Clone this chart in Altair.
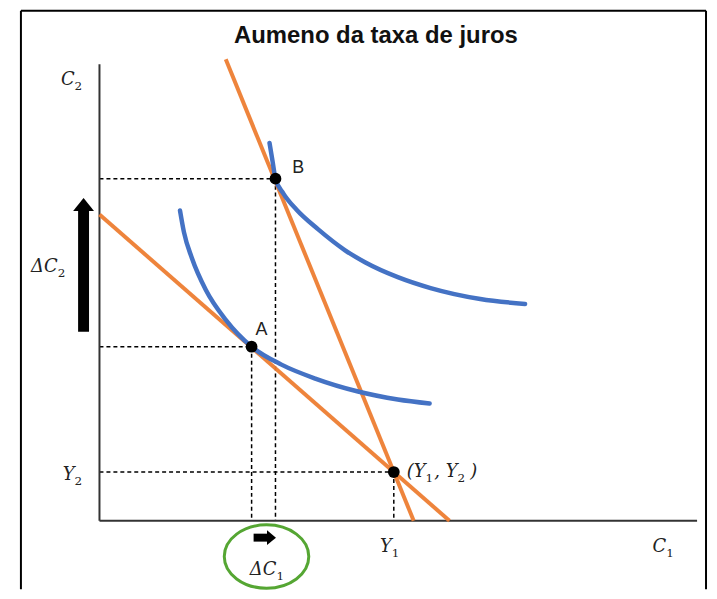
import altair as alt
import pandas as pd

# ---- data (units: economic diagram coordinates, origin at the axes corner) ----
Y1, Y2 = 296, 49
point_names = ["A", "B", "Y"]
point_x = [153, 177, Y1]
point_y = [175, 344, Y2]

# budget lines
old_budget_x = [0, 352]
old_budget_y = [308, 0]
new_budget_x = [127, 316]
new_budget_y = [464, 0]

# indifference curves
ic1_x = [81, 85, 93, 107, 127, 153, 183, 217, 260, 300, 332]
ic1_y = [312, 290, 264, 232, 202, 175, 157, 143, 130, 122, 118]
ic2_x = [171, 174, 177, 185, 198, 220, 247, 267, 300, 333, 383, 428]
ic2_y = [380, 362, 344, 329, 313, 293, 272, 260, 245, 234, 223, 218]

# axes extents
x_axis_end = 601
y_axis_end = 459

# math labels: base part (right-aligned at junction) and subscript (left-aligned at junction)
math_base = ["C", "ΔC", "Y", "Y", "C", "ΔC", "(Y", ",  Y"]
math_sub = ["2", "2", "2", "1", "1", "1", "1", "2"]
math_x = [-25, -42, -25, 294, 570, 178, 328, 360]
math_y = [438, 250, 41, -31, -31, -55, 44, 44]
close_paren = ")"
close_x, close_y = 380, 44

sans_labels = ["A", "B"]
sans_x = [163, 200]
sans_y = [192, 355]
title_text = "Aumeno da taxa de juros"

XS = alt.Scale(domain=[-92, 613], nice=False, zero=False)
YS = alt.Scale(domain=[-69, 514], nice=False, zero=False)


def X(f="x"):
    return alt.X(f + ":Q", scale=XS, axis=None)


def Y(f="y"):
    return alt.Y(f + ":Q", scale=YS, axis=None)


# border frame
border = pd.DataFrame({
    "x": [-79, 610, -79], "x2": [-79, 610, 610],
    "y": [-69, -69, 513], "y2": [513, 513, 513],
})
border_layer = alt.Chart(border).mark_rule(color="black", strokeWidth=2).encode(
    x=X(), x2="x2:Q", y=Y(), y2="y2:Q")

axes = pd.DataFrame({"x": [0, 0], "x2": [0, x_axis_end], "y": [0, 0], "y2": [y_axis_end, 0]})
axes_layer = alt.Chart(axes).mark_rule(color="#333333", strokeWidth=2).encode(
    x=X(), x2="x2:Q", y=Y(), y2="y2:Q")

px, py = point_x, point_y
guides = pd.DataFrame({
    "x": [0, px[1], 0, px[0], 0, px[2]],
    "x2": [px[1], px[1], px[0], px[0], px[2], px[2]],
    "y": [py[1], py[1], py[0], py[0], py[2], py[2]],
    "y2": [py[1], 0, py[0], 0, py[2], 0],
})
guide_layer = alt.Chart(guides).mark_rule(color="black", strokeWidth=1.5, strokeDash=[4, 3]).encode(
    x=X(), x2="x2:Q", y=Y(), y2="y2:Q")

budget = pd.DataFrame({
    "x": old_budget_x + new_budget_x,
    "y": old_budget_y + new_budget_y,
    "line": ["old"] * 2 + ["new"] * 2,
})
budget_layer = alt.Chart(budget).mark_line(color="#ED7D31", strokeWidth=4, opacity=0.95).encode(
    x=X(), y=Y(), detail="line:N")

ic = pd.DataFrame({
    "x": ic1_x + ic2_x,
    "y": ic1_y + ic2_y,
    "curve": ["ic1"] * len(ic1_x) + ["ic2"] * len(ic2_x),
})
ic_layer = alt.Chart(ic).mark_line(color="#4472C4", strokeWidth=4.5, interpolate="monotone",
                                   strokeCap="round").encode(
    x=X(), y=Y(), detail="curve:N")

pts = pd.DataFrame({"name": point_names, "x": point_x, "y": point_y})
pts_layer = alt.Chart(pts).mark_circle(color="black", size=140, opacity=1).encode(x=X(), y=Y())

# big arrow for delta C2
big_shaft = alt.Chart(pd.DataFrame({"x": [-16], "y": [190], "y2": [314]})).mark_rule(
    color="black", strokeWidth=11).encode(x=X(), y=Y(), y2="y2:Q")
big_head = alt.Chart(pd.DataFrame({"x": [-16], "y": [318]})).mark_point(
    shape="M -1 0.62 L 0 -0.62 L 1 0.62 Z", size=441, filled=True, color="black", opacity=1).encode(
    x=X(), y=Y())

# small arrow for delta C1
small_shaft = alt.Chart(pd.DataFrame({"x": [155], "x2": [170], "y": [-17]})).mark_rule(
    color="black", strokeWidth=8).encode(x=X(), x2="x2:Q", y=Y())
small_head = alt.Chart(pd.DataFrame({"x": [173], "y": [-17]})).mark_point(
    shape="M -0.6 -1 L 0.6 0 L -0.6 1 Z", size=225, filled=True, color="black", opacity=1).encode(
    x=X(), y=Y())

ellipse = alt.Chart(pd.DataFrame({"x": [168], "y": [-36]})).mark_point(
    shape="M -1 0 A 1 0.75 0 1 0 1 0 A 1 0.75 0 1 0 -1 0 Z", size=7225, filled=False,
    color="#55A633", strokeWidth=3, opacity=1).encode(x=X(), y=Y())

math_df = pd.DataFrame({"base": math_base, "sub": math_sub, "x": math_x, "y": math_y})
math_base_layer = alt.Chart(math_df).mark_text(
    font="DejaVu Serif", fontStyle="italic", fontSize=18, color="#222222",
    align="right", baseline="alphabetic").encode(x=X(), y=Y(), text="base:N")
math_sub_layer = alt.Chart(math_df).mark_text(
    font="DejaVu Serif", fontSize=12, color="#222222",
    align="left", baseline="alphabetic", dx=0, dy=5).encode(x=X(), y=Y(), text="sub:N")
paren_layer = alt.Chart(pd.DataFrame({"t": [close_paren], "x": [close_x], "y": [close_y]})).mark_text(
    font="DejaVu Serif", fontStyle="italic", fontSize=18, color="#222222",
    align="right", baseline="alphabetic").encode(x=X(), y=Y(), text="t:N")

sans_df = pd.DataFrame({"t": sans_labels, "x": sans_x, "y": sans_y})
sans_layer = alt.Chart(sans_df).mark_text(font="Liberation Sans", fontSize=18, color="#222222",
                                         align="center", baseline="middle").encode(
    x=X(), y=Y(), text="t:N")

title_layer = alt.Chart(pd.DataFrame({"t": [title_text], "x": [278], "y": [480]})).mark_text(
    font="Liberation Sans", fontWeight="bold", fontSize=24, color="#111111",
    align="center", baseline="alphabetic").encode(x=X(), y=Y(), text="t:N")

chart = alt.layer(
    border_layer, guide_layer, axes_layer, budget_layer, ic_layer, pts_layer,
    big_shaft, big_head, small_shaft, small_head, ellipse,
    math_base_layer, math_sub_layer, paren_layer, sans_layer, title_layer,
).properties(width=705, height=583, autosize="none", padding=0).configure_view(stroke=None)

chart.save("out.html", embed_options={"renderer": "svg", "actions": False})
